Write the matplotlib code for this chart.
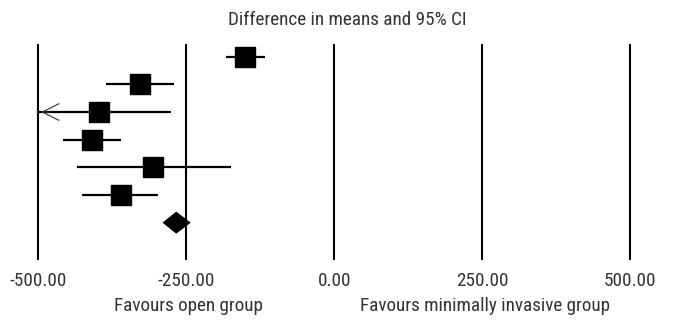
import matplotlib
matplotlib.use("Agg")
import matplotlib.pyplot as plt

plt.rcParams['font.family'] = ['Roboto Condensed', 'Liberation Sans Narrow', 'Arial Narrow',
                               'Roboto', 'DejaVu Sans']
FS = 13.8

# study-level difference in means with 95% CI
effect = [-150.5, -328, -397, -409, -305.5, -361]
ci_low = [-182.6, -385.5, -530, -457.7, -435, -425.6]
ci_high = [-117, -270.5, -275, -360, -175, -297]

# pooled estimate
pooled = -267
pooled_low = -290
pooled_high = -242.3

ticks = [-500, -250, 0, 250, 500]
xmin, xmax = -500, 500

W, H = 674, 322
fig = plt.figure(figsize=(W / 100, H / 100), dpi=100)
ax = fig.add_axes([38.3 / W, 1 - 260 / H, (630 - 38.3) / W, (260 - 44) / H])
ax.set_xlim(xmin, xmax)
ax.set_ylim(7.35, -0.46)

ax.vlines(ticks, 7.35, -0.46, color='black', lw=1.5, clip_on=False)

for i in range(len(effect)):
    lo = max(ci_low[i], xmin)
    ax.plot([lo, ci_high[i]], [i, i], color='black', lw=1.6, solid_capstyle='butt')
    ax.plot(effect[i], i, marker='s', ms=14, color='black', mec='black')
    if ci_low[i] < xmin:
        ax.annotate('', xy=(xmin, i), xytext=(xmin + 25, i),
                    arrowprops=dict(arrowstyle='->, head_length=1.2, head_width=0.6',
                                    lw=0.8, color='#333333'))

py = len(effect)
ax.fill([pooled_low, pooled, pooled_high, pooled], [py, py - 0.4, py, py + 0.4],
        color='black', lw=0)

ax.set_xticks(ticks)
ax.set_xticklabels(['%.2f' % t for t in ticks], fontsize=FS, color='#333333')
ax.tick_params(axis='x', length=0, pad=8.5)
ax.set_yticks([])
for s in ax.spines.values():
    s.set_visible(False)

fig.text(347 / W, 1 - 20 / H, 'Difference in means and 95% CI', ha='center', va='center',
         fontsize=FS, color='#333333')
fig.text(188 / W, 1 - 306 / H, 'Favours open group', ha='center', va='center',
         fontsize=FS, color='#333333')
fig.text(485 / W, 1 - 306 / H, 'Favours minimally invasive group', ha='center', va='center',
         fontsize=FS, color='#333333')

fig.savefig('out.png', dpi=100)
